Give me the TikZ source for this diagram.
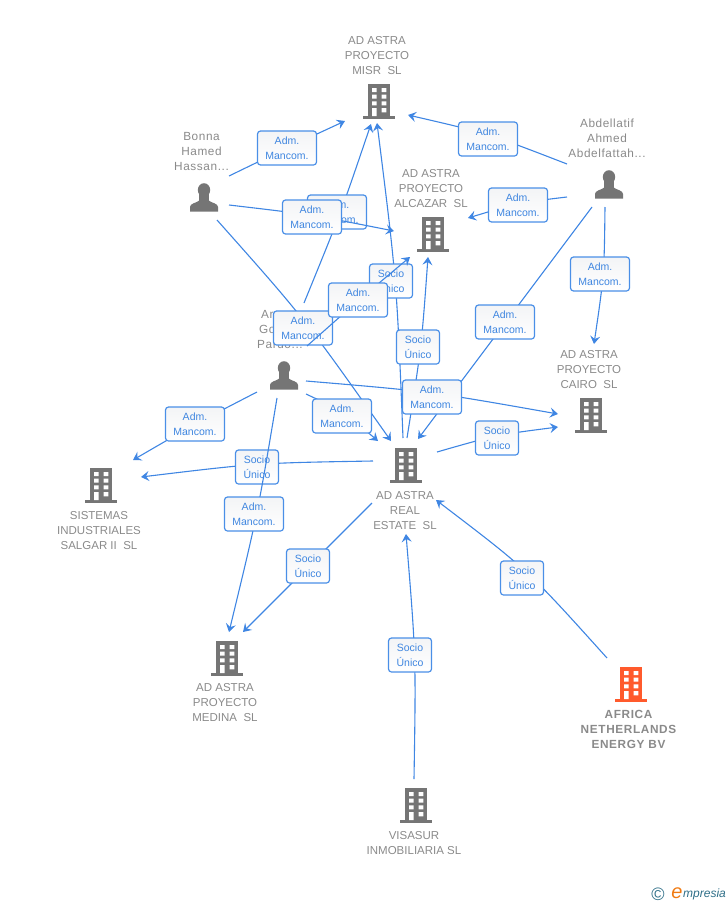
\documentclass[tikz,border=0pt]{standalone}
\usepackage{fontspec}
\setmainfont{Liberation Sans}
\usetikzlibrary{arrows.meta,calc}
\definecolor{linkc}{HTML}{3F86E3}
\definecolor{boxc}{HTML}{4A8FE7}
\definecolor{txtc}{HTML}{3F86E0}
\definecolor{lblc}{HTML}{8A8A8A}
\definecolor{iconc}{HTML}{757575}
\definecolor{orangec}{HTML}{FF5A2C}
\definecolor{tealc}{HTML}{2F6F88}
\definecolor{logoo}{HTML}{F07A12}
\definecolor{boxtop}{HTML}{F3F4F6}
\tikzset{
  x=1pt,y=-1pt,
  conn/.style={draw=linkc,line width=1.1pt,-{Stealth[length=8pt,width=10pt,inset=3pt]}},
  tagbox/.style={draw=boxc,line width=1.2pt,rounded corners=3pt,top color=boxtop,bottom color=white,
    text=txtc,font=\fontsize{10.5}{15}\selectfont,align=center,inner sep=0pt,minimum height=34pt},
  admbox/.style={tagbox,minimum width=59pt},
  socbox/.style={tagbox,minimum width=43pt},
  lbl/.style={text=lblc,font=\fontsize{11.5}{15}\selectfont,align=center,inner sep=0pt},
  namelbl/.style={lbl,font=\fontsize{11.8}{15}\selectfont\addfontfeatures{LetterSpace=5}},
  pics/bldg/.style={code={
    \fill[#1] (-11,-17) rectangle (11,15);
    \fill[#1] (-16,15) rectangle (16,18);
    \fill[white] (-7,-13) rectangle (-2.4,-9) (2.7,-13) rectangle (7.3,-9)
                 (-7,-6.3) rectangle (-2.4,-2.3) (2.7,-6.3) rectangle (7.3,-2.3)
                 (-7,0.3) rectangle (-2.4,4.3) (2.7,0.3) rectangle (7.3,4.3)
                 (-7,7) rectangle (-2.4,15) (2.7,7) rectangle (7.3,11.3);
  }},
  pics/pers/.style={code={
    \fill[iconc] (0,-8) ellipse (6.2 and 6.8);
    \fill[iconc] (-4.6,-5) rectangle (4.6,4);
    \fill[iconc] (-14,13.7) -- (-14,9) .. controls (-14,5.5) and (-8,5) .. (-4.6,2.5) -- (4.6,2.5)
       .. controls (8,5) and (14,5.5) .. (14,9) -- (14,13.7) -- cycle;
  }}
}
\newcommand{\lnk}[2]{% id, point the curve passes through
  \draw[conn] (s#1) .. controls ($(s#1)!.5!(e#1)!1.3333!(#2)$) .. (e#1);}
\begin{document}
\begin{tikzpicture}
\useasboundingbox (0,0) rectangle (728,905);
% connector ends
\foreach \n/\sx/\sy/\ex/\ey in {
 1/229/176/345/121, 2/229/205/394/231, 3/217/220/391/441, 4/304/303/371/124,
 5/307/346/410/257, 6/306/381/558/414, 7/306/394/378/441, 8/257/392/133/460,
 9/277/398/229/632, 10/407/438/428/257, 11/403/438/377/123, 12/437/452/558/427,
 13/373/461/141/477, 14/372/503/243/632, 15/414/779/406/534, 16/607/658/436/500,
 17/567/164/408/115, 18/567/197/468/218, 19/605/207/594/344, 20/592/207/418/439}
 {\coordinate (s\n) at (\sx,\sy); \coordinate (e\n) at (\ex,\ey);}

% labels and icons
\node[lbl] (tmisr) at (377,56) {AD ASTRA\\PROYECTO\\MISR\ \ SL};
\pic (misr) at (379,101) {bldg=iconc};
\node[lbl] (talc) at (431,189) {AD ASTRA\\PROYECTO\\ALCAZAR\ \ SL};
\pic (alc) at (433,234) {bldg=iconc};
\node[lbl] (tcai) at (589,370) {AD ASTRA\\PROYECTO\\CAIRO\ \ SL};
\pic (cai) at (591,415) {bldg=iconc};
\node[lbl] (tsal) at (99,531) {SISTEMAS\\INDUSTRIALES\\SALGAR II\ \ SL};
\pic (sal) at (101,485) {bldg=iconc};
\node[lbl] (trea) at (405,511) {AD ASTRA\\REAL\\ESTATE\ \ SL};
\pic (rea) at (406,465) {bldg=iconc};
\node[lbl] (tmed) at (225,703) {AD ASTRA\\PROYECTO\\MEDINA\ \ SL};
\pic (med) at (227,658) {bldg=iconc};
\node[lbl] (tvis) at (414,843.5) {VISASUR\\INMOBILIARIA SL};
\pic (vis) at (416,805) {bldg=iconc};
\node[lbl,font=\fontsize{11.8}{15}\selectfont\bfseries\addfontfeatures{LetterSpace=5.4}] (tafr) at (628.5,729) {AFRICA\\NETHERLANDS\\ENERGY BV};
\pic (afr) at (631,684) {bldg=orangec};
\node[namelbl] (tbon) at (201.5,151.5) {Bonna\\Hamed\\Hassan...};
\pic (bon) at (204,198) {pers};
\node[namelbl] (tabd) at (607,138.5) {Abdellatif\\Ahmed\\Abdelfattah...};
\pic (abd) at (609,185) {pers};
\node[namelbl,align=left,anchor=west] (tar) at (257,329.5) {\hspace*{4pt}Ar\\\hspace*{2pt}Go\\Pardo...};
\pic (ar) at (284,376) {pers};

% connectors with their tags
\coordinate (m11) at (395,280); \lnk{11}{m11}
\node[socbox] (b11) at (391,281) {Socio\\Único};
\coordinate (m10) at (420.5,347); \lnk{10}{m10}
\node[socbox] (b10) at (418,347) {Socio\\Único};
\coordinate (m3) at (304,321); \lnk{3}{m3}
\node[admbox] (b3) at (303,328) {Adm.\\Mancom.};
\coordinate (m4) at (340,213); \lnk{4}{m4}
\node[admbox] (b4) at (337,212) {Adm.\\Mancom.};
\coordinate (m2) at (311.5,215.5); \lnk{2}{m2}
\node[admbox] (b2) at (312,217) {Adm.\\Mancom.};
\coordinate (m5) at (358,301); \lnk{5}{m5}
\node[admbox] (b5) at (358,300) {Adm.\\Mancom.};
\coordinate (m1) at (287,148); \lnk{1}{m1}
\node[admbox] (b1) at (287,148) {Adm.\\Mancom.};
\coordinate (m20) at (505,323); \lnk{20}{m20}
\node[admbox] (b20) at (505,322) {Adm.\\Mancom.};
\coordinate (m6) at (431,393); \lnk{6}{m6}
\node[admbox] (b6) at (432,397) {Adm.\\Mancom.};
\coordinate (m7) at (343,413); \lnk{7}{m7}
\node[admbox] (b7) at (342,416) {Adm.\\Mancom.};
\coordinate (m8) at (195,424.5); \lnk{8}{m8}
\node[admbox] (b8) at (195,424) {Adm.\\Mancom.};
\coordinate (m13) at (257,464.5); \lnk{13}{m13}
\node[socbox] (b13) at (257,467) {Socio\\Único};
\coordinate (m9) at (256.5,514); \lnk{9}{m9}
\node[admbox] (b9) at (254,514) {Adm.\\Mancom.};
\coordinate (m12) at (497,436); \lnk{12}{m12}
\node[socbox] (b12) at (497,438) {Socio\\Único};
\coordinate (m14) at (308,567); \lnk{14}{m14}
\node[socbox] (b14) at (308,566) {Socio\\Único};
\coordinate (m15) at (414.5,656); \lnk{15}{m15}
\node[socbox] (b15) at (410,655) {Socio\\Único};
\coordinate (m16) at (526,572); \lnk{16}{m16}
\node[socbox] (b16) at (522,578) {Socio\\Único};
\coordinate (m17) at (488,135); \lnk{17}{m17}
\node[admbox] (b17) at (488,139) {Adm.\\Mancom.};
\coordinate (m18) at (518,204); \lnk{18}{m18}
\node[admbox] (b18) at (518,205) {Adm.\\Mancom.};
\coordinate (m19) at (603,275); \lnk{19}{m19}
\node[admbox] (b19) at (600,274) {Adm.\\Mancom.};

% logo
\node[text=tealc,font=\fontsize{18}{18}\selectfont,inner sep=0pt] (copyr) at (658,894) {©};
\node[text=logoo,font=\fontsize{20}{20}\selectfont\itshape,inner sep=0pt] (logoe) at (677,893) {e};
\node[text=tealc,font=\fontsize{12}{12}\selectfont\itshape,inner sep=0pt,anchor=west] (logot) at (683,894.5) {mpresia};
\end{tikzpicture}
\end{document}
